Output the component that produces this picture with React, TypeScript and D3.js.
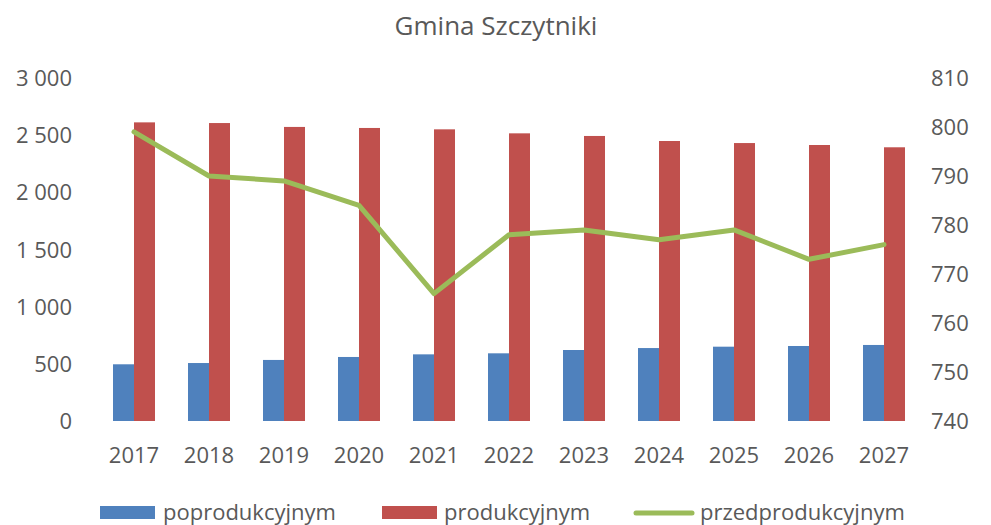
import React from "react";
import * as d3 from "d3";

const years = ["2017", "2018", "2019", "2020", "2021", "2022", "2023", "2024", "2025", "2026", "2027"];
const poprodukcyjnym = [496, 507, 534, 560, 583, 592, 621, 638, 650, 656, 665];
const produkcyjnym = [2612, 2606, 2572, 2563, 2551, 2516, 2493, 2449, 2431, 2414, 2394];
const przedprodukcyjnym = [799, 790, 789, 784, 766, 778, 779, 777, 779, 773, 776];
const leftTicks = [0, 500, 1000, 1500, 2000, 2500, 3000];
const rightTicks = [740, 750, 760, 770, 780, 790, 800, 810];

const W = 991, H = 525;
const FONT = "'Open Sans', sans-serif";

export default function App() {
  const x = d3.scaleBand().domain(years).range([96.5, 921.5]).paddingInner(0).paddingOuter(0);
  const yL = d3.scaleLinear().domain([0, 3000]).range([421, 78]);
  const yR = d3.scaleLinear().domain([740, 810]).range([421, 78]);
  const bw = 21;
  const fmt = (v: number) => d3.format(",")(v).replace(/,/g, " ");
  const line = d3.line<number>()
    .x((_, i) => (x(years[i]) as number) + x.bandwidth() / 2)
    .y((d) => yR(d));

  return (
    <svg width={W} height={H} style={{ position: "absolute", left: 0, top: 0, background: "#fff" }}>
      <text x={496} y={35} textAnchor="middle" fontFamily={FONT} fontSize={26} fill="#595959">Gmina Szczytniki</text>
      {leftTicks.map((t) => (
        <text key={"l" + t} x={72} y={yL(t) + 8} textAnchor="end" fontFamily={FONT} fontSize={22} fill="#595959">{fmt(t)}</text>
      ))}
      {rightTicks.map((t) => (
        <text key={"r" + t} x={931} y={yR(t) + 8} textAnchor="start" fontFamily={FONT} fontSize={22} fill="#595959">{t}</text>
      ))}
      {years.map((yr, i) => {
        const c = (x(yr) as number) + x.bandwidth() / 2;
        return (
          <g key={yr}>
            <rect x={c - bw} y={yL(poprodukcyjnym[i])} width={bw} height={yL(0) - yL(poprodukcyjnym[i])} fill="#4F81BD" />
            <rect x={c} y={yL(produkcyjnym[i])} width={bw} height={yL(0) - yL(produkcyjnym[i])} fill="#C0504D" />
            <text x={c} y={463} textAnchor="middle" fontFamily={FONT} fontSize={22} fill="#595959">{yr}</text>
          </g>
        );
      })}
      <path d={line(przedprodukcyjnym) || ""} fill="none" stroke="#9BBB59" strokeWidth={5} strokeLinejoin="round" strokeLinecap="round" />
      <rect x={100} y={506} width={55} height={13} fill="#4F81BD" />
      <text x={163} y={520} fontFamily={FONT} fontSize={22} fill="#595959">poprodukcyjnym</text>
      <rect x={382} y={506} width={55} height={13} fill="#C0504D" />
      <text x={444} y={520} fontFamily={FONT} fontSize={22} fill="#595959">produkcyjnym</text>
      <line x1={636} x2={692} y1={513} y2={513} stroke="#9BBB59" strokeWidth={5} strokeLinecap="round" />
      <text x={700} y={520} fontFamily={FONT} fontSize={22} fill="#595959">przedprodukcyjnym</text>
    </svg>
  );
}
